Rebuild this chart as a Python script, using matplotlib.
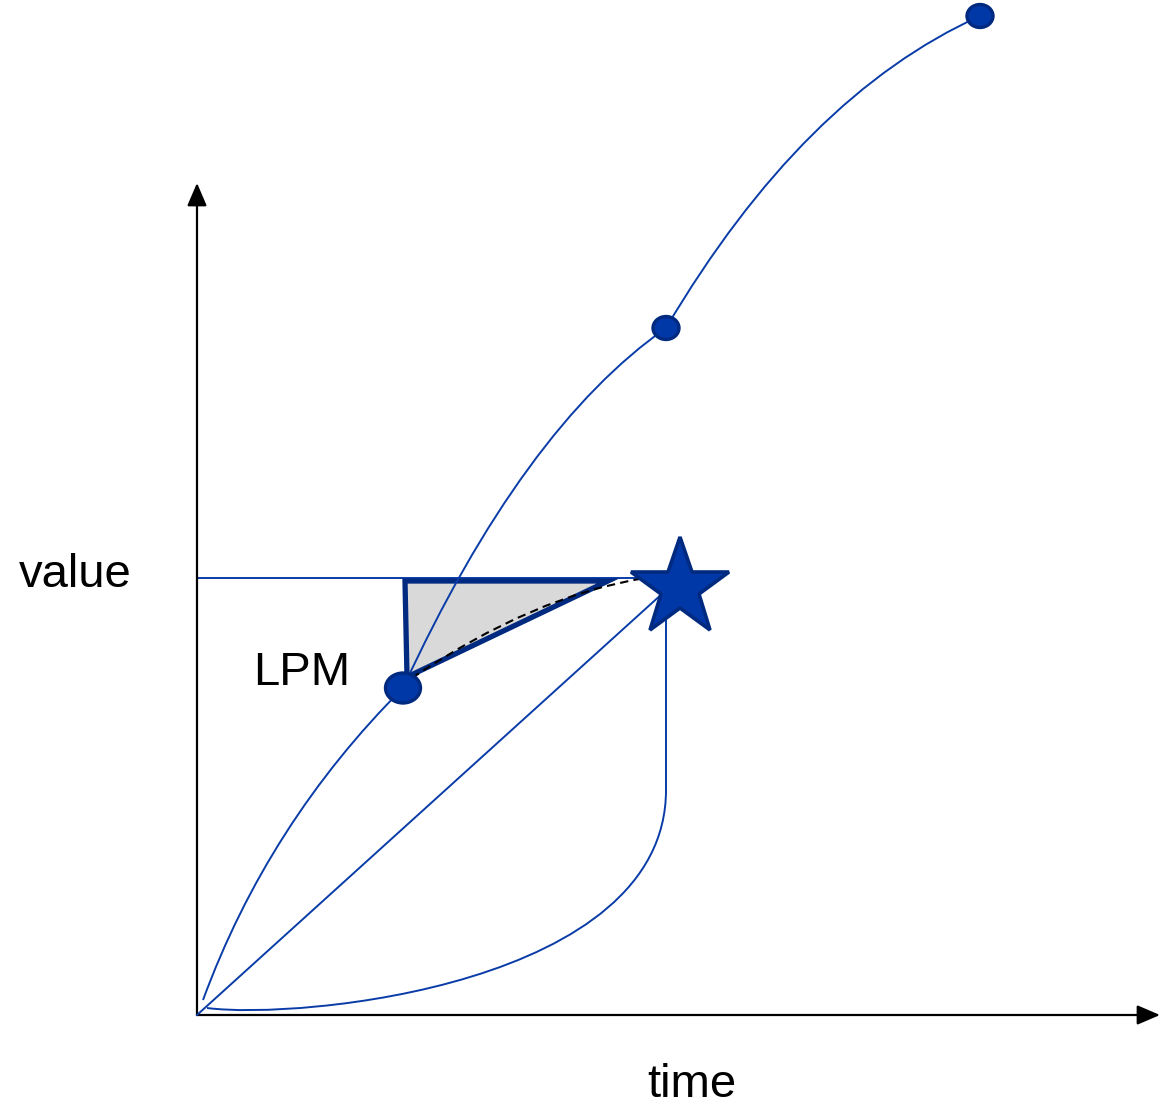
import matplotlib
matplotlib.use('Agg')
import matplotlib.pyplot as plt
import matplotlib.patches as mpatches
from matplotlib.path import Path

plt.rcParams['font.family'] = ['Liberation Sans', 'DejaVu Sans']

# ============================================================================
# 1. DADOS (unidades do diagrama: origem no canto dos eixos)
# ============================================================================
# curva superior: três trechos de Bézier quadrática (início, controle, fim)
curva_sup_x = [0.06, 0.71, 2.06, 3.26, 4.69, 6.06, 7.83]
curva_sup_y = [0.15, 1.92, 3.27, 5.87, 6.87, 9.19, 9.99]

# pontos (elipses) sobre a curva superior
pontos_x = [2.06, 4.69, 7.83]
pontos_y = [3.27, 6.87, 9.99]
pontos_larg = [0.35, 0.26, 0.26]
pontos_alt = [0.30, 0.23, 0.23]

# nível "value" e a estrela
nivel_valor = 4.37
nivel_fim_x = 4.63
estrela_x, estrela_y = 4.83, 4.27

# reta da origem até a estrela
diag_x = [0.0, 4.66]
diag_y = [0.0, 4.22]

# curva inferior (Bézier cúbica) + trecho vertical até a estrela
curva_inf_x = [0.10, 1.03, 4.69, 4.69]
curva_inf_y = [0.07, -0.05, 0.30, 2.25]
vert_x = [4.69, 4.69]
vert_y = [2.25, 4.22]

# triângulo LPM
tri_x = [2.08, 4.11, 2.10]
tri_y = [4.34, 4.34, 3.38]

# curva tracejada (Bézier quadrática)
tracej_x = [2.15, 3.36, 4.48]
tracej_y = [3.37, 4.19, 4.37]

# eixos
eixo_y_topo = 8.32
eixo_x_fim = 9.63

# ============================================================================
# 2. FIGURA
# ============================================================================
azul = '#0a3ca8'
azul_esc = '#002a80'

fig = plt.figure(figsize=(11.61, 11.06), dpi=100)
ax = fig.add_axes([0, 0, 1, 1])
ax.set_xlim(-1.97, 9.64)
ax.set_ylim(-0.91, 10.15)
ax.axis('off')

# eixos com setas
seta = dict(arrowstyle='-|>,head_length=0.7,head_width=0.3', mutation_scale=20,
            color='black', lw=1.6, shrinkA=0, shrinkB=0)
ax.annotate('', xy=(0, eixo_y_topo), xytext=(0, 0), arrowprops=seta)
ax.annotate('', xy=(eixo_x_fim, 0), xytext=(0, 0), arrowprops=seta)

# curva superior
verts = list(zip(curva_sup_x, curva_sup_y))
codes = [Path.MOVETO] + [Path.CURVE3] * 6
ax.add_patch(mpatches.PathPatch(Path(verts, codes), fill=False, edgecolor=azul, lw=1.4, zorder=4))

# linha do valor
ax.plot([0, nivel_fim_x], [nivel_valor, nivel_valor], color=azul, lw=1.4, zorder=1)

# diagonal
ax.plot(diag_x, diag_y, color=azul, lw=1.4, zorder=3)

# curva inferior
verts = list(zip(curva_inf_x, curva_inf_y))
codes = [Path.MOVETO, Path.CURVE4, Path.CURVE4, Path.CURVE4]
ax.add_patch(mpatches.PathPatch(Path(verts, codes), fill=False, edgecolor=azul, lw=1.4, zorder=3))
ax.plot(vert_x, vert_y, color=azul, lw=1.4, zorder=3)

# triângulo
ax.add_patch(mpatches.Polygon(list(zip(tri_x, tri_y)), closed=True, facecolor='#d9d9d9',
                              edgecolor=azul_esc, lw=3.8, joinstyle='miter', zorder=2))

# tracejada
verts = list(zip(tracej_x, tracej_y))
codes = [Path.MOVETO, Path.CURVE3, Path.CURVE3]
ax.add_patch(mpatches.PathPatch(Path(verts, codes), fill=False, edgecolor='black', lw=1.5,
                                linestyle=(0, (4, 2.5)), zorder=5))

# pontos
for x, y, w, h in zip(pontos_x, pontos_y, pontos_larg, pontos_alt):
    ax.add_patch(mpatches.Ellipse((x, y), w, h, facecolor='#0038a8', edgecolor=azul_esc, lw=2.4, zorder=6))

# estrela
ax.plot(estrela_x, estrela_y, marker='*', markersize=74, color='#0038a8',
        markeredgecolor=azul_esc, markeredgewidth=2.6, zorder=7)

# textos
ax.text(-1.22, 4.28, 'value', fontsize=34, ha='center', va='baseline')
ax.text(1.05, 3.30, 'LPM', fontsize=34, ha='center', va='baseline')
ax.text(4.95, -0.82, 'time', fontsize=34, ha='center', va='baseline')

fig.savefig('out.png', dpi=100, facecolor='white')
